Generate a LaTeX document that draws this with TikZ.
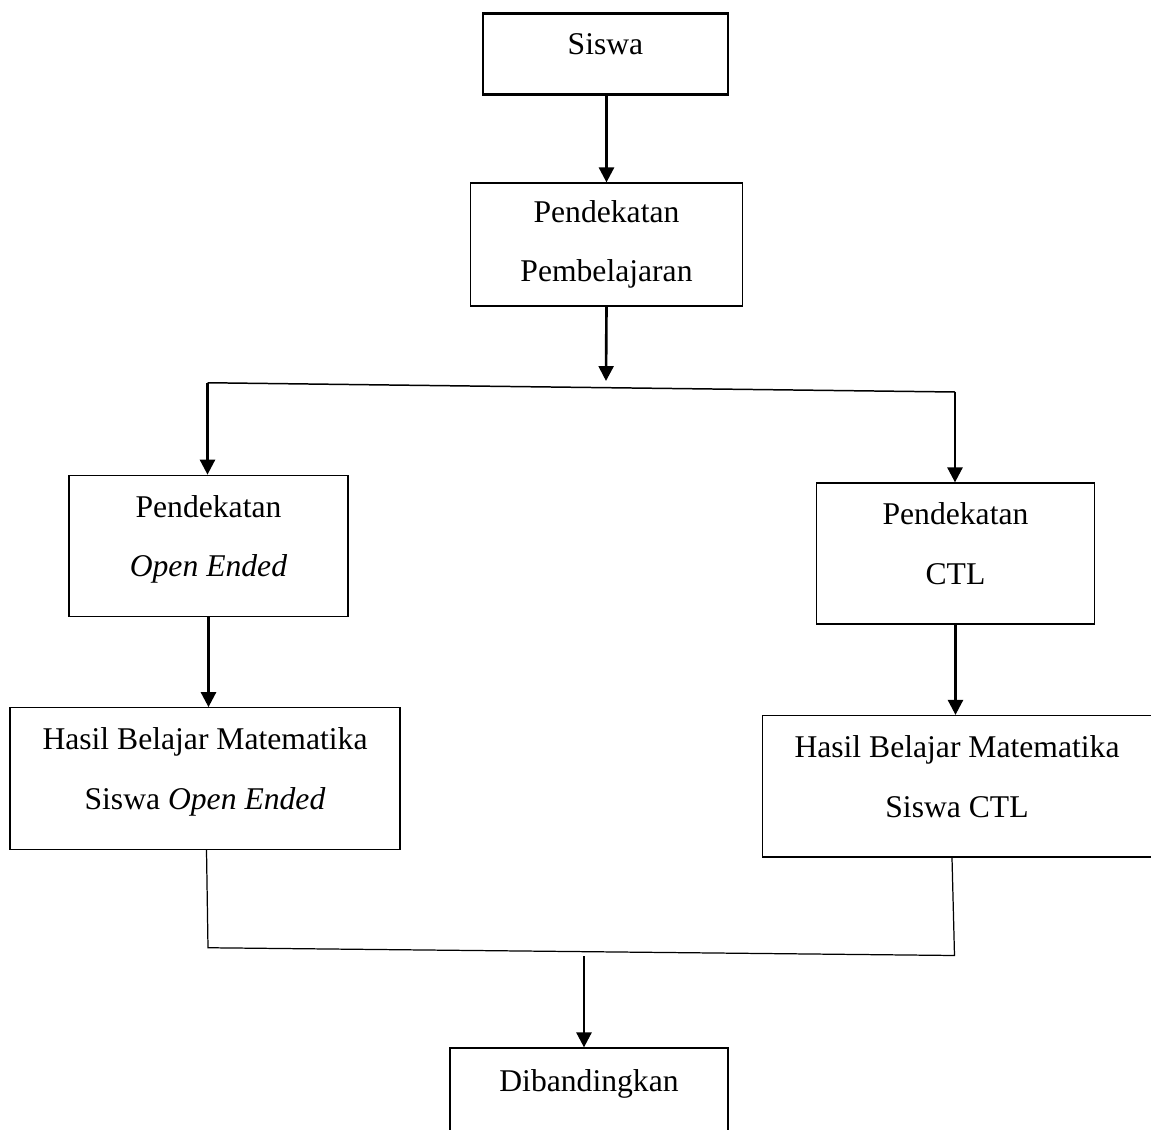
\documentclass[tikz,border=0pt]{standalone}
\usepackage{fontspec}
\setmainfont{Liberation Serif}
\usetikzlibrary{arrows.meta}

\begin{document}
\begin{tikzpicture}[
	box/.style = {draw, line width = .7pt, align = center, inner sep = 0pt,
		font = \fontsize{18}{34}\selectfont},
	lifted/.style = {execute at end node = {\rule[-.4cm]{0pt}{0pt}}},
	arr/.style = {line width = 1.5pt, -{Triangle[width = 8.5pt, length = 8.5pt]}},
	wire/.style = {line width = .7pt}
	]
	\useasboundingbox (0,0) rectangle (23.02,-22.6);
	\node [box, lifted, line width = 1.7pt, minimum width = 4.9cm, minimum height = 1.62cm] (siswa) at (12.11,-1.075) {Siswa};
	\node [box, minimum width = 5.43cm, minimum height = 2.46cm] (pemb) at (12.13,-4.89) {Pendekatan\\Pembelajaran};
	\node [box, lifted, minimum width = 5.58cm, minimum height = 2.83cm] (open) at (4.17,-10.92) {Pendekatan\\\textit{Open Ended}};
	\node [box, lifted, minimum width = 5.56cm, minimum height = 2.82cm] (ctl) at (19.11,-11.07) {Pendekatan\\CTL};
	\node [box, lifted, minimum width = 7.8cm, minimum height = 2.83cm] (hasilopen) at (4.1,-15.57) {Hasil Belajar Matematika\\Siswa \textit{Open Ended}};
	\node [box, lifted, minimum width = 7.77cm, minimum height = 2.83cm] (hasilctl) at (19.14,-15.725) {Hasil Belajar Matematika\\Siswa CTL};
	\node [box, lifted, minimum width = 5.56cm, minimum height = 1.72cm] (banding) at (11.78,-21.82) {Dibandingkan};
	\coordinate (split) at (12.12,-7.62);
	\coordinate (splitL) at (4.15,-7.655);
	\coordinate (splitR) at (19.1,-7.84);
	\coordinate (joinL) at (4.16,-18.955);
	\coordinate (joinR) at (19.09,-19.11);
	\coordinate (merge) at (11.68,-19.12);
	\draw [arr] (pemb.north |- siswa.south) -- (pemb.north);
	\draw [arr] (pemb.south) -- (split);
	\draw [wire, line width = .85pt] (splitL) -- (splitR);
	\draw [arr] (splitL) -- (splitL |- open.north);
	\draw [arr] (splitR) -- (splitR |- ctl.north);
	\draw [arr] (open.south) -- (open.south |- hasilopen.north);
	\draw [arr] (ctl.south) -- (ctl.south |- hasilctl.north);
	\draw [wire] ([xshift = .03cm]hasilopen.south) -- (joinL) -- (joinR) -- ([xshift = -.1cm]hasilctl.south);
	\draw [arr] (merge) -- (merge |- banding.north);
\end{tikzpicture}
\end{document}
